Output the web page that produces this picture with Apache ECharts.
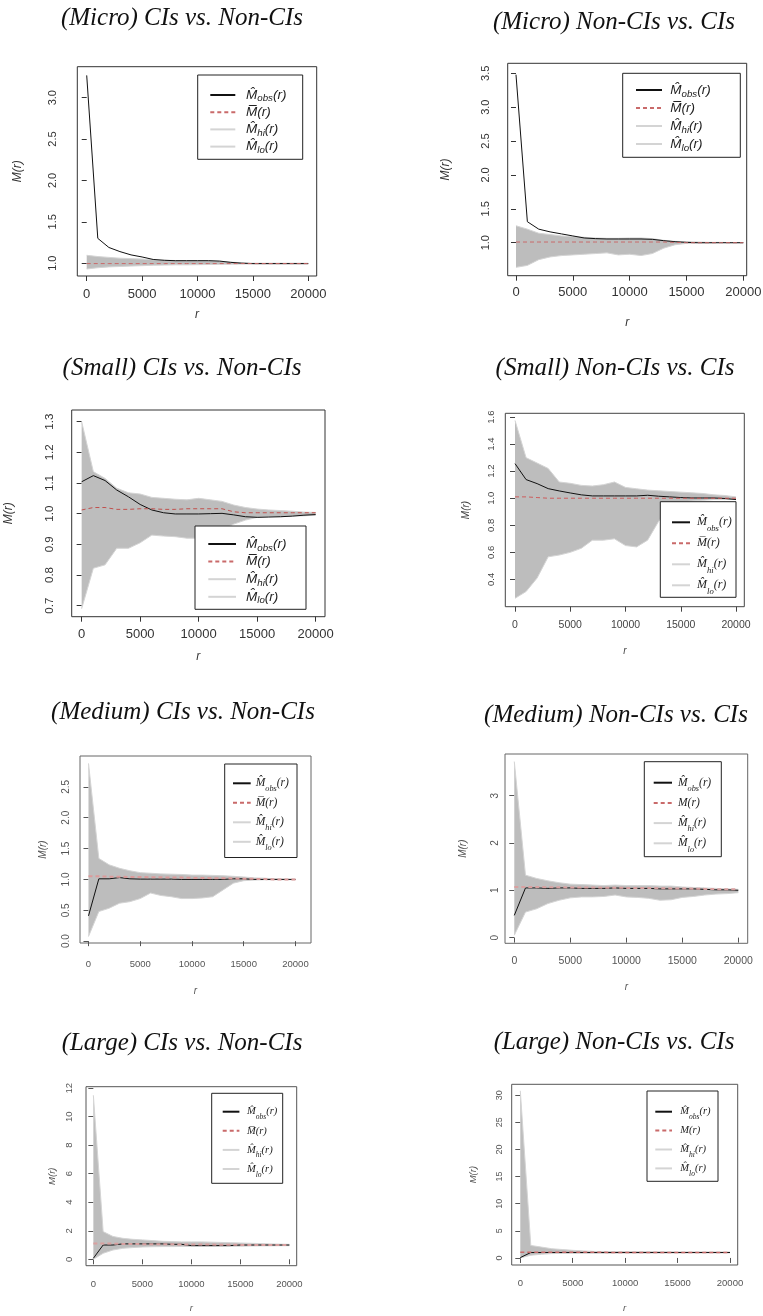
<!DOCTYPE html>
<html><head><meta charset="utf-8">
<script src="https://cdn.jsdelivr.net/npm/echarts@6/dist/echarts.min.js"></script>
<style>html,body{margin:0;padding:0;background:#fff;}#c{width:763px;height:1316px;}</style>
</head><body><div id="c"></div>
<script>
// ---------------- DATA ----------------
const r = [0,1000,2000,3000,4000,5000,6000,7000,8000,9000,10000,11000,12000,13000,14000,15000,16000,17000,18000,19000,20000];
const titles = ['(Micro) CIs vs. Non-CIs','(Micro) Non-CIs vs. CIs','(Small) CIs vs. Non-CIs','(Small) Non-CIs vs. CIs',
                '(Medium) CIs vs. Non-CIs','(Medium) Non-CIs vs. CIs','(Large) CIs vs. Non-CIs','(Large) Non-CIs vs. CIs'];
const xTickLabels = ['0','5000','10000','15000','20000'];
const yTicks_microCI = ['1.0','1.5','2.0','2.5','3.0'];
const yTicks_microNon = ['1.0','1.5','2.0','2.5','3.0','3.5'];
const yTicks_smallCI = ['0.7','0.8','0.9','1.0','1.1','1.2','1.3'];
const yTicks_smallNon = ['0.4','0.6','0.8','1.0','1.2','1.4','1.6'];
const yTicks_mediumCI = ['0.0','0.5','1.0','1.5','2.0','2.5'];
const yTicks_mediumNon = ['0','1','2','3'];
const yTicks_largeCI = ['0','2','4','6','8','10','12'];
const yTicks_largeNon = ['0','5','10','15','20','25','30'];

const microCI_obs  = [3.27,1.30,1.19,1.14,1.10,1.075,1.045,1.035,1.03,1.03,1.03,1.03,1.025,1.01,1.0,0.995,0.995,0.995,0.995,0.995,0.995];
const microCI_mean = [0.995,0.995,0.995,0.995,0.995,0.995,0.995,0.995,0.995,0.995,0.995,0.995,0.995,0.995,0.995,0.995,0.995,0.995,0.995,0.995,0.995];
const microCI_hi   = [1.095,1.08,1.07,1.06,1.055,1.05,1.04,1.035,1.032,1.03,1.03,1.028,1.022,1.012,1.005,1.0,1.0,1.0,1.0,1.0,1.0];
const microCI_lo   = [0.93,0.945,0.955,0.96,0.965,0.97,0.975,0.977,0.98,0.98,0.982,0.984,0.986,0.988,0.99,0.99,0.99,0.99,0.99,0.99,0.99];

const microNon_obs  = [3.48,1.31,1.20,1.16,1.13,1.10,1.07,1.06,1.055,1.055,1.055,1.055,1.05,1.03,1.015,1.005,1.0,1.0,1.0,1.0,1.0];
const microNon_mean = [1.01,1.01,1.01,1.01,1.01,1.01,1.01,1.01,1.01,1.01,1.01,1.01,1.01,1.01,1.005,1.0,1.0,1.0,1.0,1.0,1.0];
const microNon_hi   = [1.25,1.20,1.14,1.12,1.10,1.09,1.08,1.07,1.065,1.065,1.07,1.07,1.06,1.035,1.02,1.015,1.01,1.005,1.005,1.0,1.0];
const microNon_lo   = [0.636,0.665,0.75,0.79,0.81,0.82,0.83,0.84,0.85,0.82,0.83,0.81,0.84,0.92,0.97,0.99,0.995,0.995,1.0,1.0,1.0];

const smallCI_obs  = [1.104,1.124,1.108,1.077,1.055,1.03,1.012,1.003,0.999,0.999,0.999,1.0,1.001,0.996,0.99,0.988,0.989,0.99,0.992,0.995,0.997];
const smallCI_mean = [1.012,1.02,1.02,1.014,1.014,1.016,1.016,1.014,1.014,1.016,1.016,1.016,1.016,1.006,1.003,1.003,1.003,1.003,1.003,1.003,1.003];
const smallCI_hi   = [1.30,1.137,1.115,1.083,1.068,1.064,1.053,1.05,1.047,1.045,1.05,1.045,1.04,1.028,1.02,1.015,1.012,1.01,1.008,1.005,1.004];
const smallCI_lo   = [0.69,0.822,0.833,0.887,0.887,0.905,0.93,0.927,0.925,0.92,0.92,0.925,0.947,0.966,0.979,0.988,0.99,0.99,0.992,0.993,0.995];

const smallNon_obs  = [1.256,1.138,1.108,1.071,1.054,1.039,1.025,1.017,1.017,1.017,1.017,1.017,1.022,1.015,1.01,1.005,1.002,1.002,1.002,0.998,0.99];
const smallNon_mean = [1.01,1.01,1.005,1.0,1.0,1.0,1.0,1.0,1.0,1.0,1.0,1.0,1.0,1.0,1.0,1.0,1.0,1.0,1.0,1.0,1.0];
const smallNon_hi   = [1.575,1.30,1.26,1.22,1.12,1.11,1.095,1.09,1.10,1.12,1.08,1.07,1.06,1.055,1.05,1.045,1.04,1.035,1.025,1.02,1.01];
const smallNon_lo   = [0.26,0.31,0.41,0.567,0.58,0.60,0.63,0.69,0.69,0.70,0.65,0.64,0.69,0.83,0.93,0.97,0.98,0.985,0.99,0.99,0.995];

const mediumCI_obs  = [0.41,1.01,1.01,1.03,1.01,1.005,1.005,1.005,1.005,1.0,1.0,1.0,1.0,1.0,1.01,1.01,1.0,1.0,1.0,1.0,1.0];
const mediumCI_mean = [1.05,1.05,1.045,1.045,1.04,1.04,1.035,1.035,1.03,1.03,1.025,1.025,1.02,1.02,1.015,1.01,1.01,1.005,1.0,1.0,1.0];
const mediumCI_hi   = [2.88,1.34,1.236,1.18,1.14,1.11,1.10,1.09,1.085,1.08,1.07,1.07,1.065,1.06,1.05,1.04,1.025,1.02,1.01,1.005,1.0];
const mediumCI_lo   = [0.075,0.48,0.534,0.615,0.64,0.69,0.78,0.74,0.72,0.69,0.69,0.70,0.72,0.83,0.94,0.98,0.99,0.995,0.995,0.995,0.995];

const mediumNon_obs  = [0.47,1.05,1.05,1.04,1.05,1.05,1.04,1.04,1.04,1.05,1.04,1.04,1.04,1.03,1.03,1.03,1.03,1.02,1.01,1.01,1.0];
const mediumNon_mean = [1.07,1.07,1.07,1.065,1.065,1.06,1.06,1.06,1.055,1.055,1.05,1.05,1.05,1.045,1.04,1.04,1.035,1.03,1.025,1.02,1.02];
const mediumNon_hi   = [3.72,1.32,1.25,1.20,1.16,1.13,1.12,1.11,1.10,1.11,1.10,1.10,1.10,1.09,1.09,1.07,1.06,1.05,1.04,1.03,1.02];
const mediumNon_lo   = [0.05,0.54,0.61,0.72,0.79,0.84,0.86,0.86,0.87,0.90,0.86,0.85,0.83,0.79,0.80,0.85,0.87,0.90,0.92,0.93,0.95];

const largeCI_obs  = [0.07,1.0,1.0,1.08,1.08,1.08,1.08,1.08,1.05,1.05,0.96,0.96,0.96,0.96,0.96,1.0,1.0,1.0,1.0,1.0,1.0];
const largeCI_mean = [1.1,1.1,1.1,1.08,1.08,1.06,1.06,1.05,1.05,1.04,1.04,1.03,1.03,1.02,1.02,1.01,1.01,1.0,1.0,1.0,1.0];
const largeCI_hi   = [11.5,1.94,1.6,1.47,1.4,1.36,1.31,1.26,1.24,1.22,1.22,1.22,1.2,1.18,1.16,1.14,1.12,1.1,1.08,1.06,1.05];
const largeCI_lo   = [0.0,0.42,0.65,0.77,0.82,0.86,0.88,0.89,0.89,0.9,0.9,0.9,0.9,0.91,0.92,0.92,0.93,0.94,0.94,0.95,0.95];

const largeNon_obs  = [0.06,1.0,1.0,1.0,1.0,1.0,1.0,1.0,1.0,1.0,1.0,1.0,1.0,1.0,1.0,1.0,1.0,1.0,1.0,1.0,1.0];
const largeNon_mean = [1.06,1.06,1.05,1.05,1.04,1.04,1.03,1.03,1.03,1.02,1.02,1.02,1.02,1.01,1.01,1.01,1.01,1.0,1.0,1.0,1.0];
const largeNon_hi   = [30.8,2.3,2.0,1.7,1.55,1.4,1.3,1.2,1.2,1.18,1.16,1.15,1.14,1.13,1.12,1.11,1.1,1.1,1.1,1.1,1.1];
const largeNon_lo   = [0.0,0.5,0.68,0.8,0.85,0.86,0.87,0.88,0.88,0.89,0.9,0.9,0.9,0.91,0.92,0.92,0.93,0.93,0.94,0.94,0.95];

const panels = [
  {obs:microCI_obs,  mean:microCI_mean,  hi:microCI_hi,  lo:microCI_lo,  yTicks:yTicks_microCI},
  {obs:microNon_obs, mean:microNon_mean, hi:microNon_hi, lo:microNon_lo, yTicks:yTicks_microNon},
  {obs:smallCI_obs,  mean:smallCI_mean,  hi:smallCI_hi,  lo:smallCI_lo,  yTicks:yTicks_smallCI},
  {obs:smallNon_obs, mean:smallNon_mean, hi:smallNon_hi, lo:smallNon_lo, yTicks:yTicks_smallNon},
  {obs:mediumCI_obs, mean:mediumCI_mean, hi:mediumCI_hi, lo:mediumCI_lo, yTicks:yTicks_mediumCI},
  {obs:mediumNon_obs,mean:mediumNon_mean,hi:mediumNon_hi,lo:mediumNon_lo,yTicks:yTicks_mediumNon},
  {obs:largeCI_obs,  mean:largeCI_mean,  hi:largeCI_hi,  lo:largeCI_lo,  yTicks:yTicks_largeCI},
  {obs:largeNon_obs, mean:largeNon_mean, hi:largeNon_hi, lo:largeNon_lo, yTicks:yTicks_largeNon}
];

// ---------------- LAYOUT (positions / sizes / styles) ----------------
const layout = [
 {box:[77.3,66.7,316.7,276], x:[-850,20760], y:[0.845,3.375], title:[182,18],
  leg:{l:197.7,t:75,r:301.7,b:159.3,lx:209.3,len:25,tx:245,y1:95,sp:17.2,serif:false,fs:13.5,bar:true},
  fs:{x:13,y:11,name:12}, d:{xLab:18,yLab:24,xName:39,yName:60}, frame:'#333', lab:'#333', meanC:'#c96a6a', meanW:1},
 {box:[507.7,63.3,746.7,275.7], x:[-730,20300], y:[0.513,3.648], title:[614,22],
  leg:{l:622.7,t:73.3,r:739.3,b:157.3,lx:635,len:26,tx:669.3,y1:90,sp:18,serif:false,fs:13.5,bar:true},
  fs:{x:13,y:11,name:12}, d:{xLab:17,yLab:22,xName:47,yName:62}, frame:'#333', lab:'#333', meanC:'#c96a6a', meanW:1},
 {box:[71.7,410,325,616.7], x:[-850,20800], y:[0.664,1.338], title:[182,368],
  leg:{l:195,t:526,r:305,b:609.3,lx:207.3,len:27.7,tx:245,y1:544,sp:17.6,serif:false,fs:13.5,bar:true},
  fs:{x:13,y:11.5,name:12}, d:{xLab:18,yLab:22,xName:40,yName:63}, frame:'#333', lab:'#333', meanC:'#c0504d', meanW:1},
 {box:[505.3,413.3,744.3,606.7], x:[-880,20750], y:[0.198,1.628], title:[615,368],
  leg:{l:660.3,t:501.7,r:735,b:597.3,lx:671,len:18,tx:696,y1:522.3,sp:21,serif:true,fs:12,bar:true},
  fs:{x:10.5,y:9.5,name:10}, d:{xLab:18,yLab:14,xName:45,yName:39}, frame:'#444', lab:'#444', meanC:'#cd5c5c', meanW:1},
 {box:[80,756,311,943], x:[-820,21500], y:[-0.03,3.0], title:[183,712],
  leg:{l:224.7,t:764,r:296,b:857.5,lx:232,len:17.7,tx:254.7,y1:783.3,sp:19.5,serif:true,fs:11.5,bar:true},
  fs:{x:9.5,y:10,name:10}, d:{xLab:21,yLab:14,xName:48,yName:37}, frame:'#666', lab:'#555', meanC:'#dc9a9a', meanW:2},
 {box:[505,754,747.7,943.3], x:[-830,20840], y:[-0.12,3.88], title:[616,715],
  leg:{l:644.3,t:761.7,r:720.3,b:856.7,lx:652.7,len:18.3,tx:677,y1:782.7,sp:20.2,serif:true,fs:11.5,bar:false},
  fs:{x:10.5,y:10,name:10}, d:{xLab:18,yLab:10,xName:44,yName:42}, frame:'#666', lab:'#555', meanC:'#d9a0a0', meanW:2},
 {box:[86,1086.7,296.7,1265.7], x:[-750,20750], y:[-0.45,12.1], title:[182,1043],
  leg:{l:211.7,t:1093.3,r:281.7,b:1183.3,lx:221.7,len:16.7,tx:246,y1:1111.7,sp:19.1,serif:true,fs:10.5,bar:true},
  fs:{x:9.5,y:9.5,name:9.5}, d:{xLab:18,yLab:16,xName:42,yName:33}, frame:'#555', lab:'#555', meanC:'#d9a0a0', meanW:2},
 {box:[511.7,1084.3,737.7,1265], x:[-820,20734], y:[-1.3,32.0], title:[614,1042],
  leg:{l:647,t:1091,r:717,b:1181.3,lx:654.3,len:16.7,tx:679.3,y1:1111.7,sp:18.9,serif:true,fs:10.5,bar:false},
  fs:{x:9.5,y:9,name:9.5}, d:{xLab:18,yLab:12,xName:43,yName:38}, frame:'#555', lab:'#555', meanC:'#c96a6a', meanW:1.5}
];

const SANS = '"Liberation Sans", Arial, sans-serif';
const SERIF = '"Liberation Serif", "Times New Roman", serif';
const BAND = '#bdbdbd', HILO = '#d4d4d4';

const xTickValues = xTickLabels.map(Number);
const grids = [], xAxes = [], yAxes = [], series = [], legends = [], texts = [];

panels.forEach((p, i) => {
  const L = layout[i];
  const [bl, bt, br, bb] = L.box;
  grids.push({left: bl, top: bt, width: br - bl, height: bb - bt, show: true, borderColor: L.frame, borderWidth: 1,
              backgroundColor: 'transparent', containLabel: false, outerBoundsMode: 'none'});
  const yVals = p.yTicks.map(Number);
  xAxes.push({gridIndex: i, type: 'value', min: L.x[0], max: L.x[1],
    name: 'r', nameLocation: 'middle', nameGap: L.d.xName - L.fs.name / 2,
    nameTextStyle: {fontStyle: 'italic', fontFamily: SANS, fontSize: L.fs.name, color: L.lab},
    axisLine: {show: false}, splitLine: {show: false},
    axisTick: {show: true, inside: false, length: 5, customValues: xTickValues, lineStyle: {color: L.lab}},
    axisLabel: {customValues: xTickValues, margin: L.d.xLab - L.fs.x / 2, fontFamily: SANS, fontSize: L.fs.x, color: L.lab,
      formatter: v => xTickLabels[xTickValues.indexOf(v)]}
  });
  yAxes.push({gridIndex: i, type: 'value', min: L.y[0], max: L.y[1],
    name: 'M(r)', nameLocation: 'middle', nameRotate: 90, nameGap: L.d.yName - L.fs.name / 2,
    nameTextStyle: {fontStyle: 'italic', fontFamily: SANS, fontSize: L.fs.name, color: L.lab},
    axisLine: {show: false}, splitLine: {show: false},
    axisTick: {show: true, inside: false, length: 5, customValues: yVals, lineStyle: {color: L.lab}},
    axisLabel: {customValues: yVals, rotate: 90, margin: L.d.yLab - L.fs.y / 2, fontFamily: SANS, fontSize: L.fs.y, color: L.lab,
      formatter: v => p.yTicks[yVals.indexOf(v)]}
  });
  const pts = arr => arr.map((v, k) => [r[k], v]);
  const common = {xAxisIndex: i, yAxisIndex: i, type: 'line', symbol: 'none', silent: true, animation: false};
  // envelope band polygon between lo and hi, placed through the axes' scales
  series.push({type: 'custom', name: 'env' + i, xAxisIndex: i, yAxisIndex: i, silent: true, animation: false, clip: true,
    data: r.map((x, k) => [x, p.lo[k], p.hi[k]]),
    encode: {x: 0, y: [1, 2]},
    renderItem: (params, api) => {
      if (params.dataIndex !== 0) return null;
      const top = p.hi.map((h, k) => api.coord([r[k], h]));
      const bot = p.lo.map((l, k) => api.coord([r[k], l])).reverse();
      return {type: 'polygon', shape: {points: top.concat(bot)}, style: {fill: BAND, stroke: null}};
    }});
  series.push(Object.assign({}, common, {name: 'hi', data: pts(p.hi), lineStyle: {color: HILO, width: 1}, itemStyle: {color: HILO}}));
  series.push(Object.assign({}, common, {name: 'lo', data: pts(p.lo), lineStyle: {color: HILO, width: 1}, itemStyle: {color: HILO}}));
  series.push(Object.assign({}, common, {name: 'obs', data: pts(p.obs), lineStyle: {color: '#111', width: 1}, itemStyle: {color: '#111'}}));
  series.push(Object.assign({}, common, {name: 'mean', data: pts(p.mean), lineStyle: {color: L.meanC, width: L.meanW, type: [4, 3]}, itemStyle: {color: L.meanC}}));

  // legend box
  const g = L.leg;
  const fam = g.serif ? SERIF : SANS;
  const lh = g.sp;
  const pt = g.y1 - g.t - lh / 2;
  const pb = Math.max(0, g.b - (g.y1 + 3 * lh + lh / 2));
  const pl = g.lx - g.l;
  const textStart = g.lx + g.len + 5;
  const spacer = Math.max(0, g.tx - textStart);
  const tw = g.r - textStart - 1;
  const labels = {
    obs: '{g| }{m|M\u0302}{s|obs}{m|(r)}',
    mean: g.bar ? '{g| }{m|M\u0305(r)}' : '{g| }{m|M(r)}',
    hi: '{g| }{m|M\u0302}{s|hi}{m|(r)}',
    lo: '{g| }{m|M\u0302}{s|lo}{m|(r)}'
  };
  legends.push({left: g.l, top: g.t, orient: 'vertical', padding: [pt, 1, pb, pl], itemGap: 0,
    itemWidth: g.len, itemHeight: 2, selectedMode: false, backgroundColor: '#fff',
    borderColor: '#222', borderWidth: 1, borderRadius: 0,
    itemStyle: {opacity: 0},
    data: ['obs', 'mean', 'hi', 'lo'],
    formatter: n => labels[n],
    textStyle: {width: tw, color: '#222', fontFamily: fam, fontSize: g.fs, lineHeight: lh,
      rich: {
        g: {width: spacer, fontSize: g.fs, lineHeight: lh},
        m: {fontStyle: 'italic', fontFamily: fam, fontSize: g.fs, lineHeight: lh, color: '#222'},
        s: {fontStyle: 'italic', fontFamily: fam, fontSize: g.fs * 0.72, lineHeight: g.fs * 0.72, verticalAlign: 'bottom', color: '#222'}
      }}
  });

  texts.push({type: 'text', x: L.title[0], y: L.title[1], silent: true,
    style: {text: titles[i], fill: '#111', font: 'italic 25px "Liberation Serif", "Times New Roman", serif',
            align: 'center', verticalAlign: 'middle'}});
});

const chart = echarts.init(document.getElementById('c'), null, {renderer: 'canvas'});
chart.setOption({
  animation: false,
  backgroundColor: '#fff',
  grid: grids, xAxis: xAxes, yAxis: yAxes, series: series, legend: legends,
  graphic: {elements: texts}
});
</script></body></html>
